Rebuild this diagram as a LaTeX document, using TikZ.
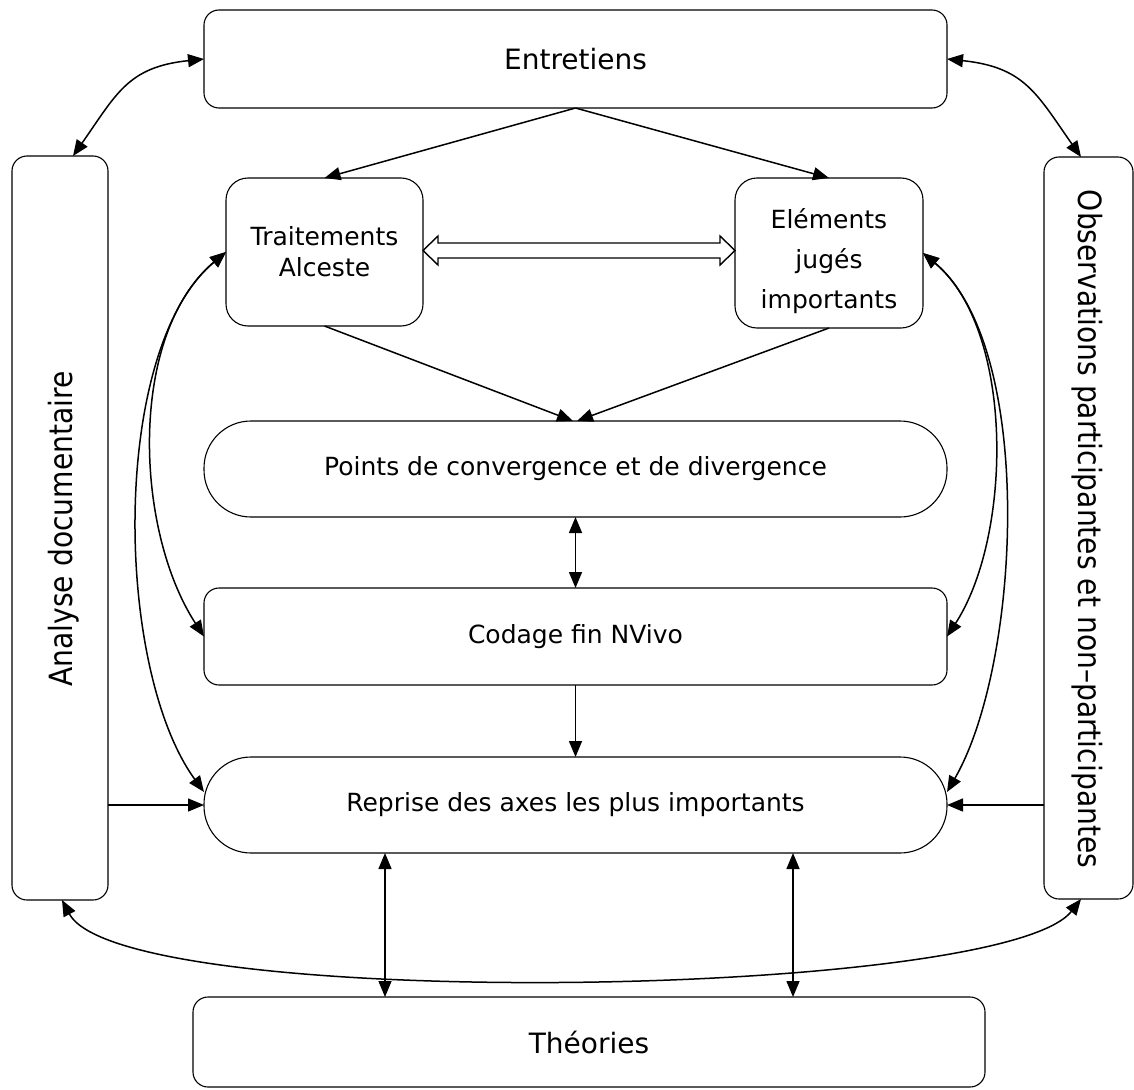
\documentclass[tikz,border=0pt]{standalone}
\usepackage{fontspec}
\setmainfont{DejaVu Sans}
\usetikzlibrary{arrows.meta,calc}
\begin{document}
\begin{tikzpicture}[x=1pt,y=1pt,
  box/.style={draw, line width=1.1pt, inner sep=0pt, outer sep=0pt},
  bigfont/.style={font=\fontsize{28}{34}\selectfont},
  sidefont/.style={font=\fontsize{32}{38}\selectfont, inner sep=0pt},
  midfont/.style={font=\fontsize{25}{31}\selectfont},
  tip/.tip={Triangle[length=16pt,width=13pt]},
  arr/.style={line width=1.5pt, -tip},
  darr/.style={line width=1.5pt, tip-tip},
  blockarrow/.style={line width=1.4pt, fill=white, line join=miter}
]
\useasboundingbox (0,0) rectangle (1134,-1089);

% boxes
\node[box, rounded corners=15pt, minimum width=743pt, minimum height=98pt, bigfont] (entr) at (575.5,-59) {Entretiens};
\node[box, rounded corners=15pt, minimum width=96pt, minimum height=744pt] (anal) at (60,-528) {};
\node[sidefont, rotate=90] (analtxt) at (63.6,-529) {\scalebox{0.88}[1]{Analyse documentaire}};
\node[box, rounded corners=15pt, minimum width=89pt, minimum height=742pt] (obs) at (1088.5,-528) {};
\node[sidefont, rotate=-90] (obstxt) at (1087.5,-529) {\scalebox{0.88}[1]{Observations participantes et non–participantes}};
\node[box, rounded corners=22pt, minimum width=197pt, minimum height=148pt, midfont, align=center] (trait) at (324.5,-252) {Traitements\\Alceste};
\node[box, rounded corners=22pt, minimum width=188pt, minimum height=150pt] (elem) at (829,-253) {};
\node[font=\fontsize{25}{40}\selectfont, align=center] (elemtxt) at (829,-261) {Eléments\\jugés\\importants};
\node[box, rounded corners=47pt, minimum width=743pt, minimum height=96pt, midfont] (points) at (575.5,-469) {Points de convergence et de divergence};
\node[box, rounded corners=15pt, minimum width=743pt, minimum height=97pt, midfont] (codage) at (575.5,-636.5) {Codage fin NVivo};
\node[box, rounded corners=47pt, minimum width=743pt, minimum height=96pt, midfont] (reprise) at (575.5,-805) {Reprise des axes les plus importants};
\node[box, rounded corners=15pt, minimum width=792pt, minimum height=90pt, bigfont] (theo) at (589,-1042) {Théories};

% helper coordinates
\coordinate (v1) at (385,0);
\coordinate (v2) at (793,0);
\coordinate (ba) at (0,-250.5);

% straight arrows
\draw[arr] (entr.south) -- (trait.north);
\draw[arr] (entr.south) -- (elem.north);
\draw[arr] (trait.south) -- ($(points.north)+(-2.5,0)$);
\draw[arr] (elem.south) -- ($(points.north)+(1.5,0)$);
\draw[darr] (points.south) -- (codage.north);
\draw[arr] (codage.south) -- (reprise.north);
\draw[arr] (anal.east |- reprise.west) -- (reprise.west);
\draw[arr] (obs.west |- reprise.east) -- (reprise.east);
\draw[darr] (reprise.south -| v1) -- (theo.north -| v1);
\draw[darr] (reprise.south -| v2) -- (theo.north -| v2);

% block double arrow
\draw[blockarrow] (trait.east |- ba) -- ++(15,14.5) -- ++(0,-7)
  -- ($(elem.west |- ba)+(-15,7.5)$) -- ++(0,7) -- (elem.west |- ba) -- ++(-15,-14.5) -- ++(0,7)
  -- ($(trait.east |- ba)+(15,-7.5)$) -- ++(0,-7) -- cycle;

% curved arrows around
\draw[darr] ($(anal.north)+(13,0)$) to[out=55,in=186,looseness=1.2] (entr.west);
\draw[darr] ($(obs.north)+(-7.5,0)$) to[out=125,in=-6,looseness=1.2] (entr.east);
\draw[darr] ($(anal.south)+(2,0)$) to[out=-62,in=232,looseness=0.32] ($(obs.south)+(-7.5,0)$);

% left curves
\draw[darr] (trait.west) to[out=220,in=123,looseness=0.85] (codage.west);
\draw[darr] (trait.west) to[out=220,in=126,looseness=0.72] ($(reprise.west)+(0,13)$);
% right curves
\draw[darr] (elem.east) to[out=-40,in=57,looseness=0.8] (codage.east);
\draw[darr] (elem.east) to[out=-40,in=60,looseness=0.7] ($(reprise.east)+(0,13)$);
\end{tikzpicture}
\end{document}
